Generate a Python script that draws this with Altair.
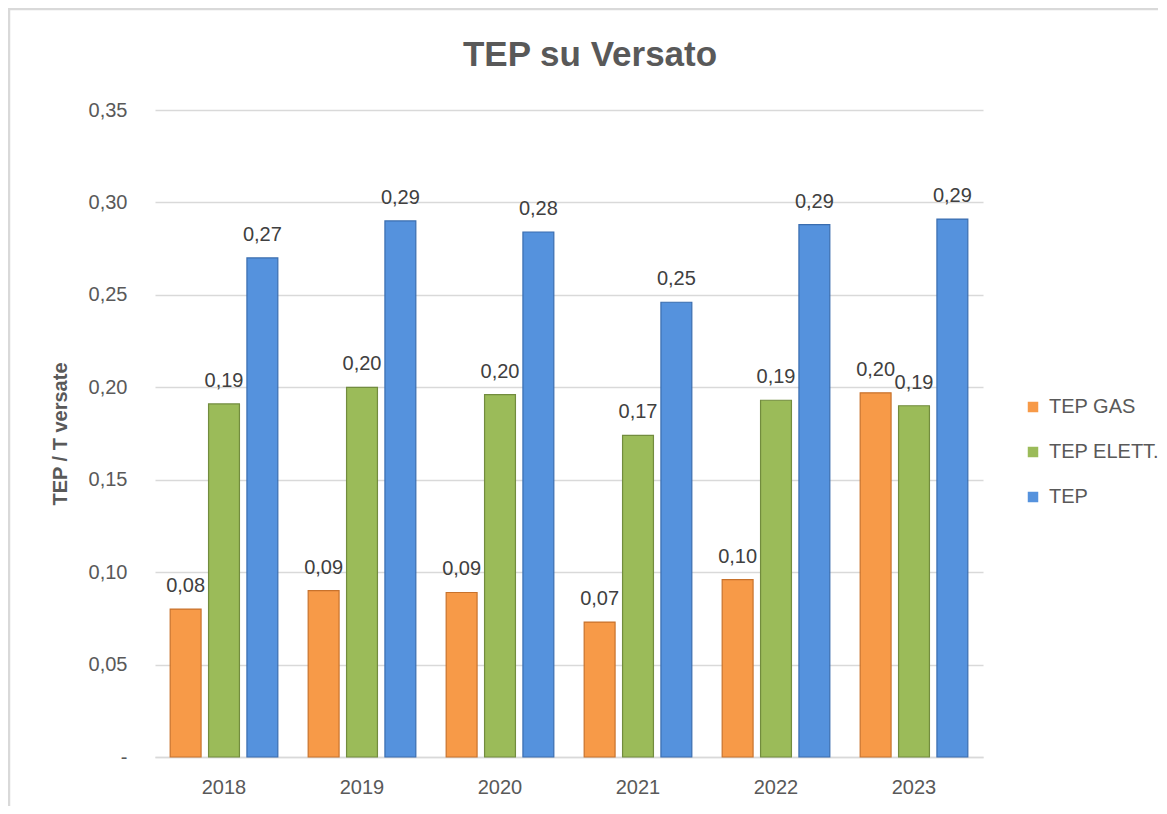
import altair as alt
import pandas as pd

years = ["2018", "2019", "2020", "2021", "2022", "2023"]
series = ["TEP GAS", "TEP ELETT.", "TEP"]
tep_gas = [0.080, 0.090, 0.089, 0.073, 0.096, 0.197]
tep_elett = [0.191, 0.200, 0.196, 0.174, 0.193, 0.190]
tep_tot = [0.270, 0.290, 0.284, 0.246, 0.288, 0.291]
y_ticks = [0, 0.05, 0.10, 0.15, 0.20, 0.25, 0.30, 0.35]
chart_title = "TEP su Versato"

fill_colors = ["#F79A48", "#9BBB59", "#5592DD"]
stroke_colors = ["#C8722C", "#728C3E", "#3A6DAF"]

rows = []
for s, vals in zip(series, [tep_gas, tep_elett, tep_tot]):
    for yr, v in zip(years, vals):
        rows.append({"year": yr, "series": s, "value": v})
df = pd.DataFrame(rows)

FONT = "Liberation Sans"
GRAY = "#595959"

x_enc = alt.X(
    "year:N",
    sort=years,
    scale=alt.Scale(paddingInner=0.22, paddingOuter=0.11),
    axis=alt.Axis(title=None, labelFontSize=20, labelColor=GRAY, labelFont=FONT,
                  labelPadding=20, ticks=False, domainColor="#D9D9D9", domainWidth=1.5,
                  labelAngle=0, grid=False),
)
xoff_enc = alt.XOffset("series:N", sort=series,
                       scale=alt.Scale(paddingInner=0.195, paddingOuter=0))
y_enc = alt.Y(
    "value:Q",
    scale=alt.Scale(domain=[0, 0.35], nice=False),
    axis=alt.Axis(
        title="TEP / T versate", titleFontSize=20, titleFont=FONT, titleColor=GRAY,
        titleFontWeight="bold", titlePadding=18,
        values=y_ticks, labelFontSize=20, labelFont=FONT, labelColor=GRAY,
        labelPadding=28, ticks=False, domain=False,
        gridColor="#D9D9D9", gridWidth=1.5,
        labelExpr="datum.value == 0 ? '-' : replace(format(datum.value, '.2f'), '.', ',')",
    ),
)

bars = alt.Chart(df).mark_bar(strokeWidth=1.2).encode(
    x=x_enc,
    xOffset=xoff_enc,
    y=y_enc,
    color=alt.Color(
        "series:N", sort=series,
        scale=alt.Scale(domain=series, range=fill_colors),
        legend=alt.Legend(
            title=None, orient="none", legendX=868, legendY=287,
            symbolType="square", symbolSize=110, symbolStrokeWidth=0,
            labelFontSize=20, labelFont=FONT, labelColor=GRAY,
            rowPadding=25, labelOffset=6,
        ),
    ),
    stroke=alt.Stroke("series:N", sort=series,
                      scale=alt.Scale(domain=series, range=stroke_colors), legend=None),
)

labels = alt.Chart(df).transform_calculate(
    label="replace(format(datum.value, '.2f'), '.', ',')"
).mark_text(fontSize=20, font=FONT, color="#404040", baseline="alphabetic", dy=-17).encode(
    x=x_enc,
    xOffset=xoff_enc,
    y=alt.Y("value:Q", scale=alt.Scale(domain=[0, 0.35], nice=False)),
    text="label:N",
)

title_df = pd.DataFrame({"t": [chart_title]})
title_mark = alt.Chart(title_df).mark_text(
    fontSize=35, fontWeight="bold", font=FONT, color=GRAY, align="center", baseline="middle"
).encode(x=alt.value(435), y=alt.value(-55), text="t:N")

frame_left = alt.Chart(title_df).mark_rule(color="#D9D9D9", strokeWidth=2.5).encode(
    x=alt.value(-146), y=alt.value(-102), y2=alt.value(760)
)
frame_top = alt.Chart(title_df).mark_rule(color="#D9D9D9", strokeWidth=2.5).encode(
    x=alt.value(-147), x2=alt.value(1020), y=alt.value(-101)
)

chart = alt.layer(bars, labels, title_mark, frame_left, frame_top).properties(
    width=828,
    height=647,
    autosize=alt.AutoSizeParams(type="none"),
    padding={"left": 147, "top": 102, "right": 175, "bottom": 49},
).configure_view(stroke=None)

chart.save("out.html", embed_options={"renderer": "svg", "actions": False})
